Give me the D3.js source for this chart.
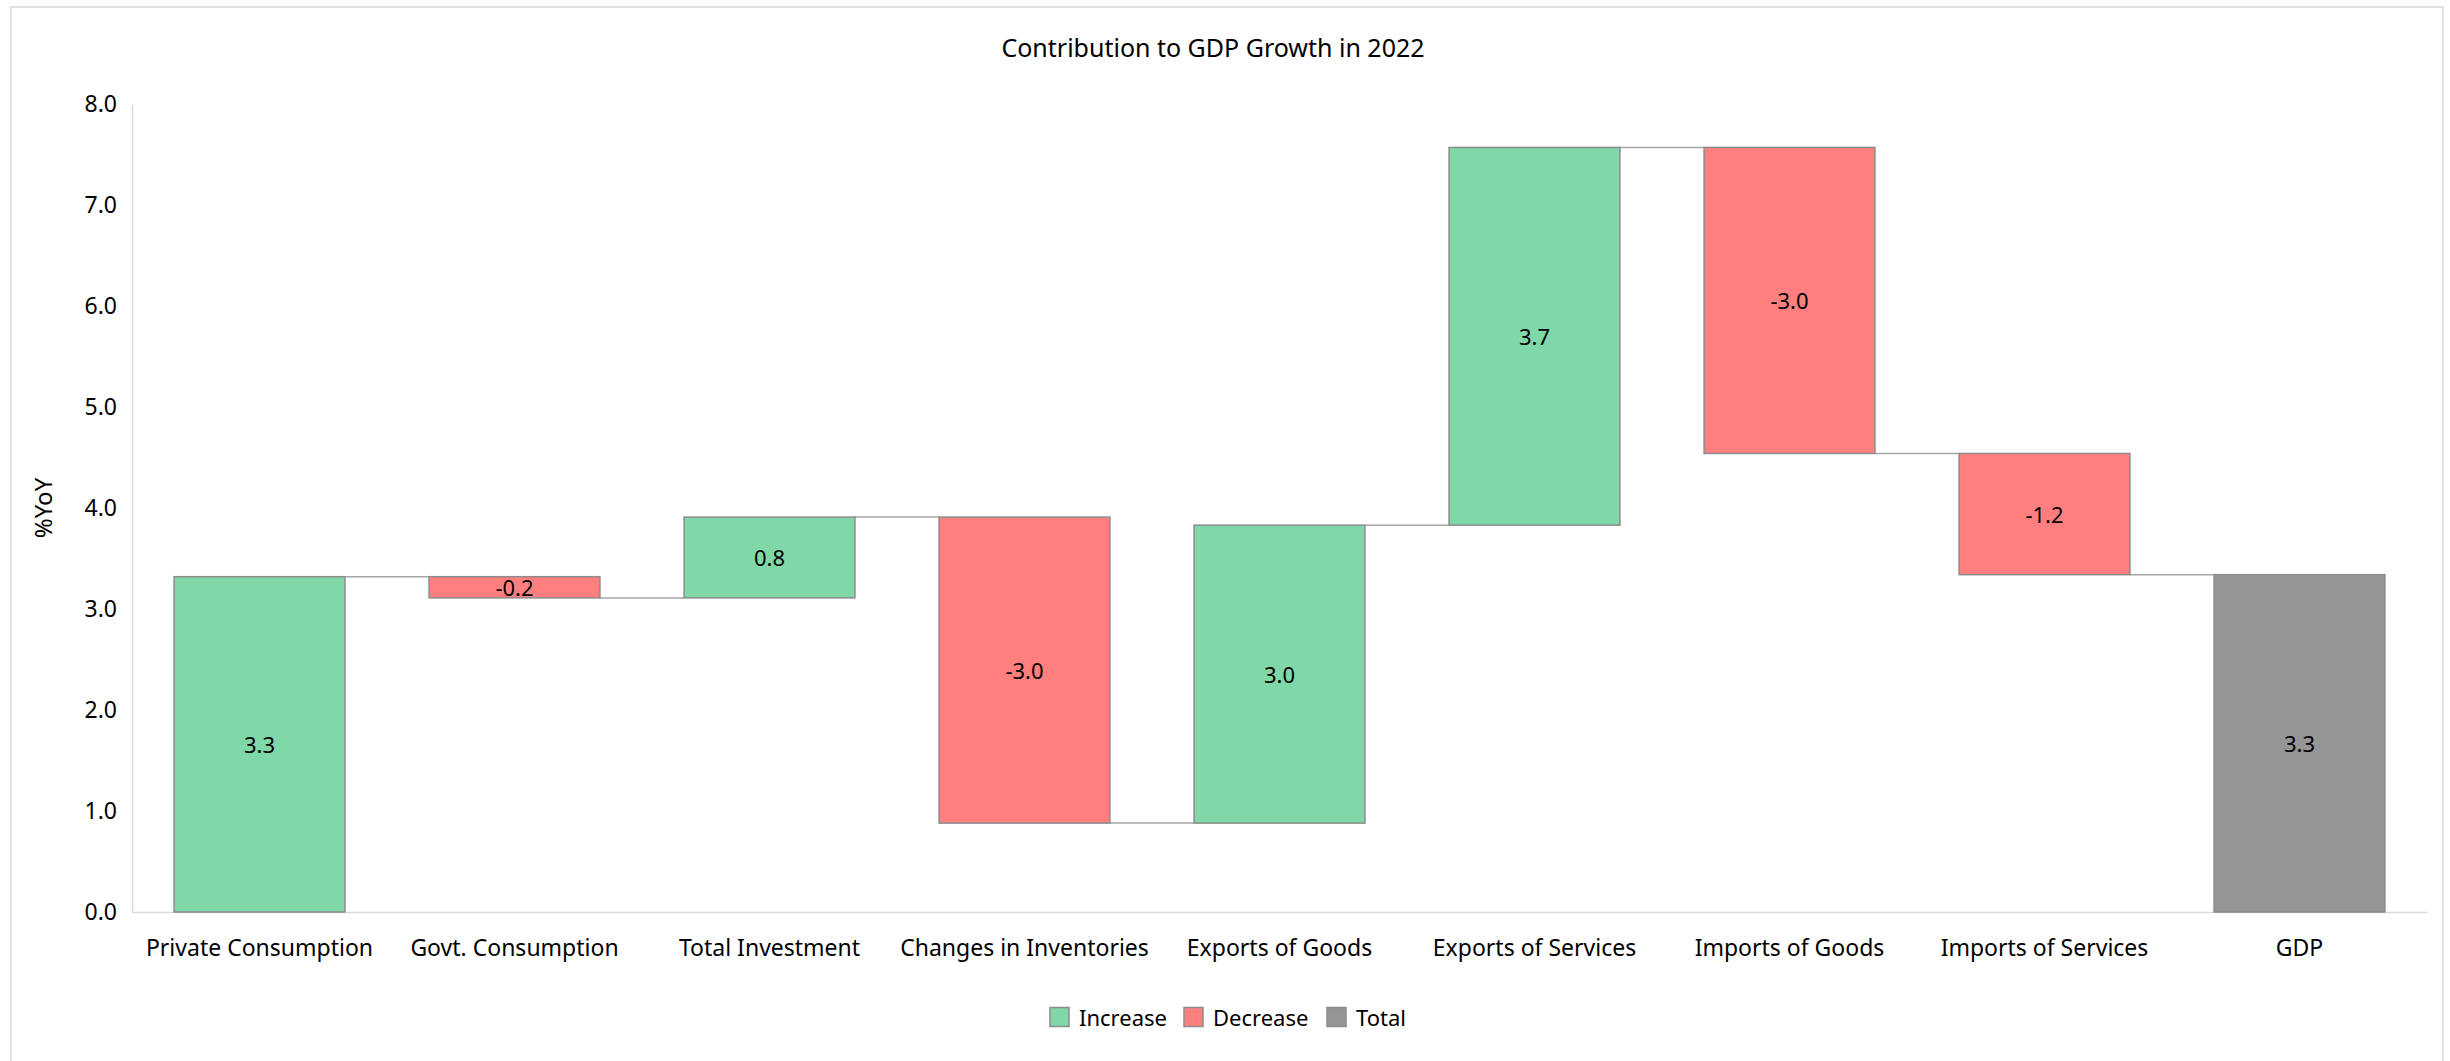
<!DOCTYPE html>
<html>
<head>
<meta charset="utf-8">
<script src="https://cdn.jsdelivr.net/npm/d3@7"></script>
<style>
  body { margin: 0; background: #fff; }
  text { font-family: "Noto Sans", sans-serif; fill: #000; }
</style>
</head>
<body>
<div id="chart"></div>
<script>
const W = 2450, H = 1061;
const margin = { top: 104, right: 23, bottom: 149, left: 132 };
const width = W - margin.left - margin.right;
const height = H - margin.top - margin.bottom;

const categories = ["Private Consumption", "Govt. Consumption", "Total Investment", "Changes in Inventories",
  "Exports of Goods", "Exports of Services", "Imports of Goods", "Imports of Services", "GDP"];
const contributions = [3.32, -0.21, 0.80, -3.03, 2.95, 3.74, -3.03, -1.20];
const gdpTotal = 3.34;
const yTicks = [0, 1, 2, 3, 4, 5, 6, 7, 8];
const legendLabels = ["Increase", "Decrease", "Total"];
const colors = { Increase: "#80d7a7", Decrease: "#ff7f7f", Total: "#959595" };

// build waterfall steps
let running = 0;
const steps = contributions.map((v, i) => {
  const start = running;
  running += v;
  return { cat: categories[i], start: start, end: running, value: v, kind: v >= 0 ? "Increase" : "Decrease" };
});
steps.push({ cat: "GDP", start: 0, end: gdpTotal, value: gdpTotal, kind: "Total" });

const svg = d3.select("#chart").append("svg")
  .attr("width", W)
  .attr("height", H);

// outer frame
svg.append("rect")
  .attr("x", 11).attr("y", 7)
  .attr("width", 2432).attr("height", 1060)
  .attr("fill", "none")
  .attr("stroke", "#d9d9d9")
  .attr("stroke-width", 1.5);

const g = svg.append("g")
  .attr("transform", "translate(" + margin.left + "," + margin.top + ")");

const x = d3.scaleBand()
  .domain(categories)
  .range([0, width])
  .paddingInner(0.33)
  .paddingOuter(0.165);

const y = d3.scaleLinear()
  .domain([0, 8])
  .range([height, 0]);

// title
svg.append("text")
  .attr("x", 1213).attr("y", 47)
  .attr("text-anchor", "middle")
  .attr("dominant-baseline", "central")
  .style("font-size", "25px")
  .text("Contribution to GDP Growth in 2022");

// y axis title
svg.append("text")
  .attr("transform", "translate(42,508) rotate(-90)")
  .attr("text-anchor", "middle")
  .attr("dominant-baseline", "central")
  .style("font-size", "24px")
  .text("%YoY");

// y axis
const yAxis = g.append("g")
  .call(d3.axisLeft(y).tickValues(yTicks).tickFormat(d => d.toFixed(1)).tickSize(0).tickPadding(15));
yAxis.select(".domain").attr("stroke", "#d9d9d9").attr("stroke-width", 1.5);
yAxis.selectAll("text").style("font-size", "23px").style("font-family", "'Noto Sans', sans-serif");

// x axis
const xAxis = g.append("g")
  .attr("transform", "translate(0," + height + ")")
  .call(d3.axisBottom(x).tickSize(0).tickPadding(28));
xAxis.select(".domain").attr("stroke", "#d9d9d9").attr("stroke-width", 1.5);
xAxis.selectAll("text").style("font-size", "23px").style("font-family", "'Noto Sans', sans-serif");

// connectors
const links = steps.slice(0, -1).map((d, i) => ({ from: d, to: steps[i + 1] }));
g.selectAll(".link")
  .data(links)
  .enter().append("line")
  .attr("class", "link")
  .attr("x1", d => x(d.from.cat) + x.bandwidth())
  .attr("x2", d => x(d.to.cat))
  .attr("y1", d => y(d.from.end))
  .attr("y2", d => y(d.to.kind === "Total" ? d.to.end : d.to.start))
  .attr("stroke", "#a6a6a6")
  .attr("stroke-width", 1.5);

// bars
g.selectAll(".bar")
  .data(steps)
  .enter().append("rect")
  .attr("class", "bar")
  .attr("x", d => x(d.cat))
  .attr("width", x.bandwidth())
  .attr("y", d => y(Math.max(d.start, d.end)))
  .attr("height", d => Math.abs(y(d.start) - y(d.end)))
  .attr("fill", d => colors[d.kind])
  .attr("stroke", "#8c8c8c")
  .attr("stroke-width", 1.5);

// value labels
g.selectAll(".val")
  .data(steps)
  .enter().append("text")
  .attr("class", "val")
  .attr("x", d => x(d.cat) + x.bandwidth() / 2)
  .attr("y", d => y((d.start + d.end) / 2))
  .attr("text-anchor", "middle")
  .attr("dominant-baseline", "central")
  .style("font-size", "22px")
  .text(d => d.value.toFixed(1));

// legend
const legend = svg.append("g").attr("transform", "translate(1050,1017)");
const legendX = [0, 134, 277];
legendLabels.forEach((l, i) => {
  const item = legend.append("g").attr("transform", "translate(" + legendX[i] + ",0)");
  item.append("rect")
    .attr("x", 0).attr("y", -9.5)
    .attr("width", 19).attr("height", 19)
    .attr("fill", colors[l])
    .attr("stroke", "#8c8c8c")
    .attr("stroke-width", 1.5);
  item.append("text")
    .attr("x", 29).attr("y", 0)
    .attr("dominant-baseline", "central")
    .style("font-size", "22px")
    .text(l);
});
</script>
</body>
</html>
